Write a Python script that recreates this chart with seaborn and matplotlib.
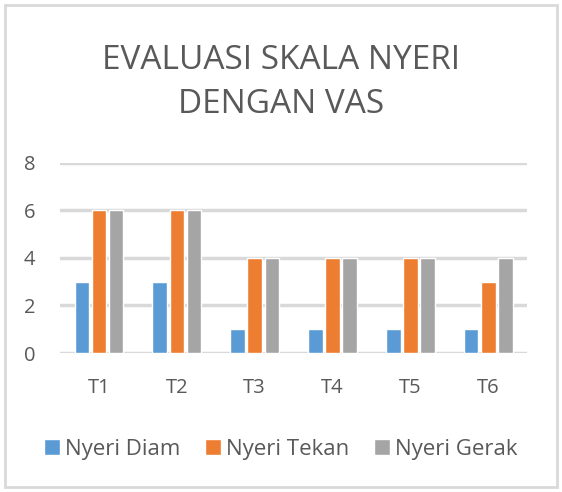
import pandas as pd
import seaborn as sns
import matplotlib.pyplot as plt
from matplotlib.patches import Rectangle

# Chart data
categories = ['T1', 'T2', 'T3', 'T4', 'T5', 'T6']
nyeri_diam = [3, 3, 1, 1, 1, 1]
nyeri_tekan = [6, 6, 4, 4, 4, 3]
nyeri_gerak = [6, 6, 4, 4, 4, 4]
series_names = ['Nyeri Diam', 'Nyeri Tekan', 'Nyeri Gerak']
colors = ['#5B9BD5', '#ED7D31', '#A5A5A5']

df = pd.DataFrame({'Waktu': categories,
                   'Nyeri Diam': nyeri_diam,
                   'Nyeri Tekan': nyeri_tekan,
                   'Nyeri Gerak': nyeri_gerak})
long_df = df.melt(id_vars='Waktu', var_name='Seri', value_name='Skor')

sns.set_style('white')
plt.rcParams['font.family'] = ['Open Sans', 'DejaVu Sans']
text_color = '#595959'

fig = plt.figure(figsize=(5.62, 4.92), dpi=100)
ax = fig.add_axes([0.107, 0.2825, 0.831, 0.3865])

sns.barplot(data=long_df, x='Waktu', y='Skor', hue='Seri', hue_order=series_names,
            palette=colors, width=0.66, gap=0.15, saturation=1, ax=ax, zorder=3)

# Axes formatting
ax.set_ylim(0, 8)
ax.set_yticks([0, 2, 4, 6, 8])
ax.set_xlim(-0.5, 5.5)
ax.grid(axis='y', color='#D9D9D9', linewidth=2.5, zorder=0)
for side in ['top', 'right', 'left', 'bottom']:
    ax.spines[side].set_visible(False)
ax.tick_params(axis='both', length=0, labelsize=14.5, labelcolor=text_color)
ax.tick_params(axis='y', pad=18)
ax.tick_params(axis='x', pad=18)
ax.set_xlabel('')
ax.set_ylabel('')

# Title
fig.text(0.5, 0.833, 'EVALUASI SKALA NYERI\nDENGAN VAS', ha='center', va='center',
         fontsize=24, color=text_color, linespacing=1.45)

# Legend below plot
ax.legend_.remove()
handles, labels = ax.get_legend_handles_labels()
fig.legend(handles, labels, loc='center', bbox_to_anchor=(0.5, 0.087), ncol=3,
           frameon=False, fontsize=16, labelcolor=text_color, handlelength=0.7,
           handleheight=0.7, handletextpad=0.25, columnspacing=1.1)

# Chart border
fig.patches.append(Rectangle((5 / 562, 5 / 492), 1 - 10 / 562, 1 - 10 / 492,
                             transform=fig.transFigure, fill=False,
                             edgecolor='#D9D9D9', linewidth=2))

fig.savefig('out.png', dpi=100)
